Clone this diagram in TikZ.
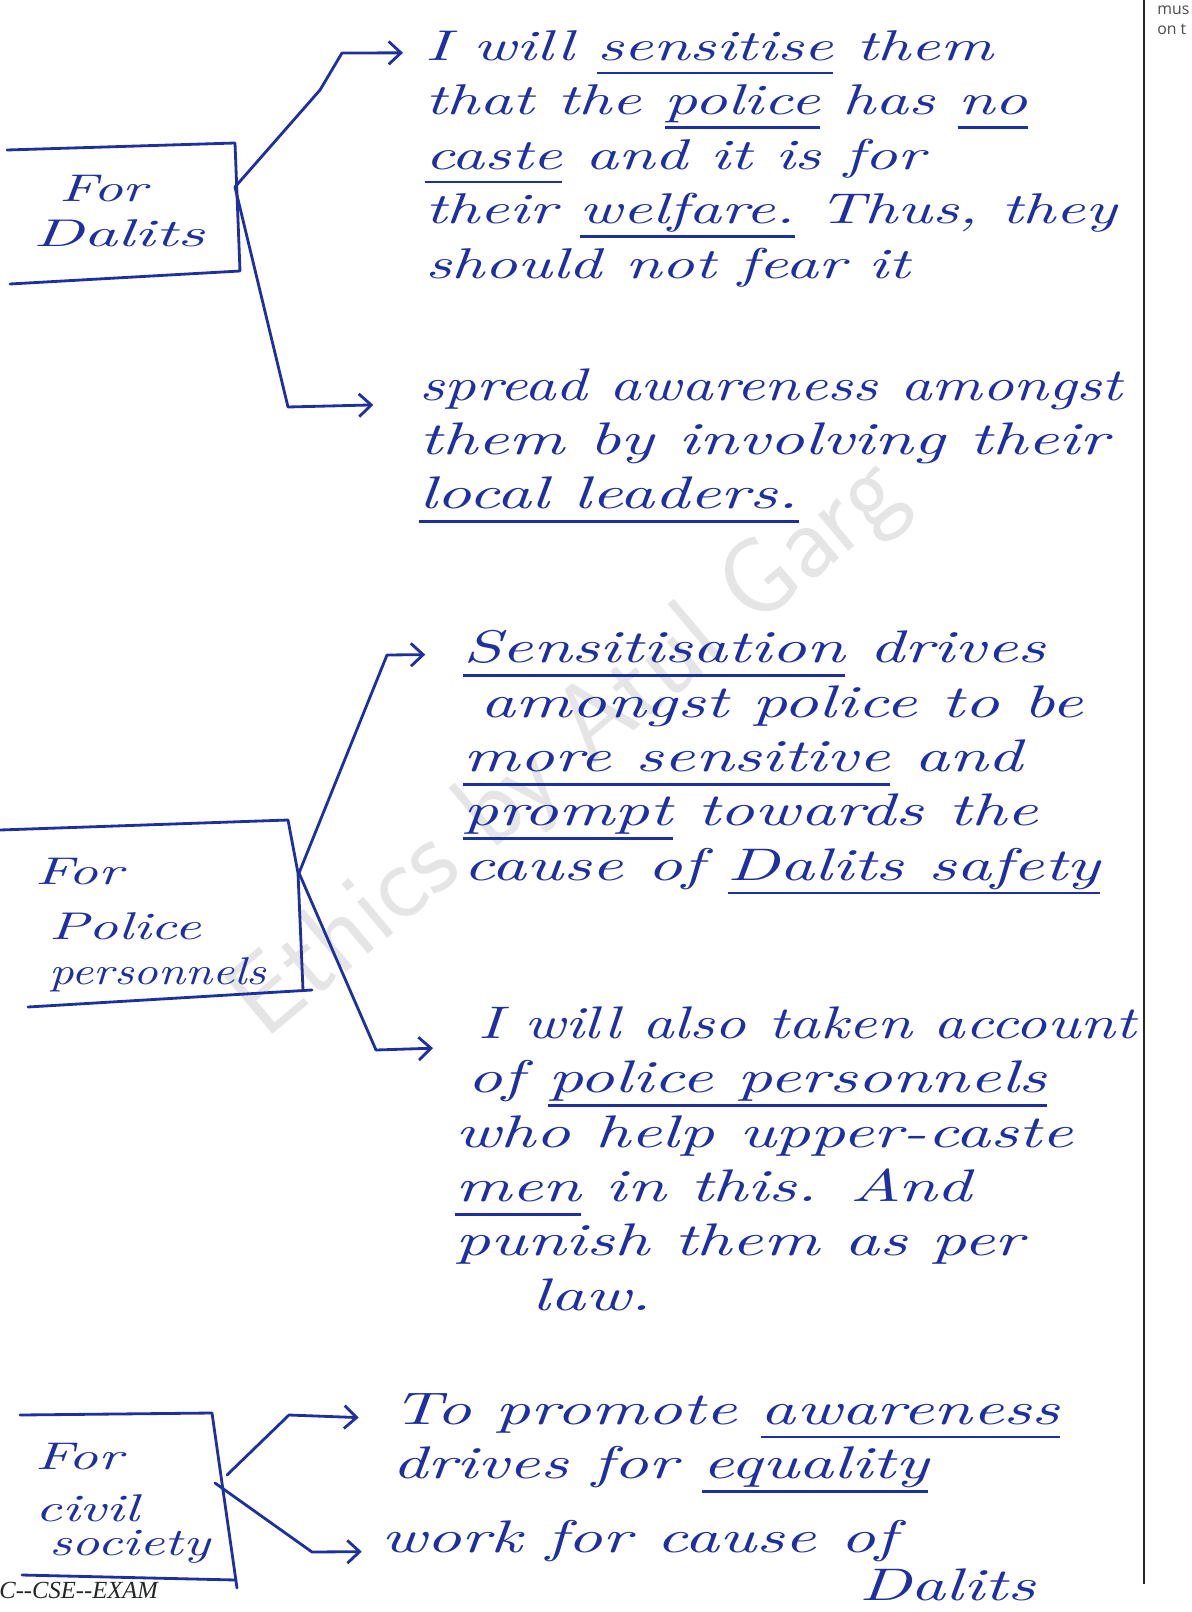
\documentclass[tikz,border=0pt]{standalone}
\usepackage{fontspec}
\usepackage{graphicx}
\newfontfamily\handfont{lmroman10-italic.otf}[FakeStretch=1.5]
\newfontfamily\printfont{Liberation Serif}
\newfontfamily\marginfont{Open Sans}
\usetikzlibrary{arrows.meta, positioning}
\definecolor{ink}{RGB}{30,48,160}
\newsavebox{\linebox}
\newcommand{\inkline}[1]{\sbox{\linebox}{#1}\rlap{\raisebox{-8pt}{\rule{\wd\linebox}{1.5pt}}}\usebox{\linebox}}

\begin{document}
\begin{tikzpicture}[
    x=0.02cm, y=-0.02cm,
    hand/.style={font=\handfont\fontsize{26}{31}\selectfont, text=ink, align=left, inner sep=0pt, anchor=north west},
    tag/.style={font=\handfont\fontsize{22}{25.5}\selectfont, text=ink, align=left, inner sep=0pt, anchor=north west},
    pen/.style={draw=ink, line width=1.6pt, line cap=round, line join=round},
    arr/.style={pen, -{Straight Barb[length=7pt, width=13pt]}}
]
    \useasboundingbox[fill=white] (0,0) rectangle (1191,1612);

    % Watermark
    \node[rotate=40, text=black!10, font=\sffamily\fontsize{62}{62}\selectfont] (wm) at (570,750) {Ethics by Atul Garg};

    % Margin rule and page text
    \draw[black!85, line width=1.2pt] (1144,0) -- (1144,1584);
    \node[anchor=north west, inner sep=0pt, align=left, text=black!70, font=\marginfont\fontsize{9}{11}\selectfont] (margin) at (1157,6) {mus\\on t};
    \node[anchor=base west, inner sep=0pt, text=black!85, font=\printfont\itshape\fontsize{14}{16}\selectfont] (exam) at (-1,1598) {C{-}{-}CSE{-}{-}EXAM};

    % For Dalits
    \draw[pen] (7,150) -- (235,143) -- (240,271) -- (10,284);
    \node[tag] (dalits) at (33,175) {\hspace*{15pt}For\\\scalebox{1.15}[1]{Dalits}};
    \coordinate (j1) at (235,187);

    \node[hand, font=\handfont\fontsize{24.5}{31}\selectfont] (sens) at (425,30) {I will \inkline{sensitise} them\\
        that the \inkline{police} has \inkline{no}\\
        \inkline{caste} and it is for\\
        their \inkline{welfare.} Thus, they\\
        should not fear it};
    \node[hand] (aware) at (419,368) {\scalebox{0.9}[1]{spread awareness amongst}\\
        them by involving their\\
        \inkline{local leaders.}};

    \draw[arr] (j1) -- (320,90) -- (342,53) -- ([shift={(-12.5pt,-13pt)}]sens.north west);
    \draw[arr] (j1) -- (288,407) -- ([shift={(-26pt,-21pt)}]aware.north west);

    % For Police personnels
    \draw[pen] (0,830) -- (288,820) -- (298,873) -- (303,990);
    \draw[pen] (312,990) -- (28,1007);
    \node[tag] (police) at (35,858) {For\\[6pt]\hspace*{8pt}Police\\\hspace*{8pt}\scalebox{0.83}[1]{personnels}};
    \coordinate (j2) at (299,873);

    \node[hand] (drives) at (463,630) {\inkline{Sensitisation} drives\\
        \hspace*{10pt}amongst police to be\\
        \inkline{more sensitive} and\\
        \inkline{prompt} towards the\\
        cause of \inkline{Dalits safety}};
    \node[hand] (account) at (455,1006) {\hspace*{13pt}\scalebox{0.9}[1]{I will also taken account}\\
        \hspace*{7pt}of \inkline{police personnels}\\
        who help upper-caste\\
        \inkline{men} in this. And\\
        punish them as per\\
        \hspace*{44pt}law.};

    \draw[arr] (j2) -- (387,655) -- ([shift={(-21.5pt,-14pt)}]drives.north west);
    \draw[arr] (j2) -- (376,1050) -- ([shift={(-12.5pt,-24pt)}]account.north west);

    % For civil society
    \draw[pen] (20,1415) -- (212,1413) -- (237,1588);
    \draw[pen] (22,1575) -- (236,1580);
    \node[tag] (civil) at (35,1443) {For\\[4pt]civil\\[-6pt]\hspace*{8pt}\scalebox{0.95}[1]{society}};
    \coordinate (j3) at (215,1483);

    \node[hand] (equal) at (392,1393) {To promote \inkline{awareness}\\
        drives for \inkline{equality}};
    \node[hand] (cause) at (381,1520) {work for cause of\\[-4pt]
        \hspace*{272pt}Dalits};

    \draw[arr] (227,1475) -- (289,1415) -- ([shift={(-19pt,-14pt)}]equal.north west);
    \draw[arr] (j3) -- (312,1552) -- ([shift={(-11pt,-18pt)}]cause.north west);
\end{tikzpicture}
\end{document}
